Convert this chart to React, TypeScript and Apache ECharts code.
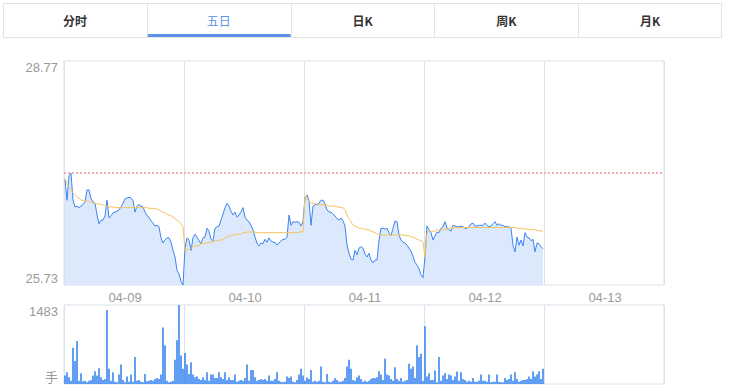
import React, { useEffect, useRef } from 'react';
import * as echarts from 'echarts';

const tabs = ['分时', '五日', '日K', '周K', '月K'];
const activeTab = 1;
const days = ['04-09', '04-10', '04-11', '04-12', '04-13'];
const POINTS_PER_DAY = 60;
const prevClose = 27.25;
const priceMin = 25.73;
const priceMax = 28.77;
const volMax = 1483;
const volUnit = '手';

const day1Price = [27.16,26.88,27.21,27.25,26.88,26.79,26.80,26.78,26.80,26.82,26.86,27.02,27.02,26.90,26.86,26.84,26.68,26.56,26.61,26.61,26.67,26.88,26.64,26.67,26.71,26.72,26.73,26.75,26.79,26.84,26.90,26.91,26.92,26.91,26.88,26.72,26.80,26.82,26.80,26.79,26.72,26.67,26.65,26.60,26.57,26.53,26.54,26.52,26.37,26.30,26.34,26.37,26.37,26.31,26.20,26.11,25.93,25.88,25.78,25.73];
const day2Price = [26.23,26.37,26.34,26.20,26.37,26.42,26.38,26.33,26.29,26.37,26.38,26.50,26.46,26.35,26.33,26.50,26.52,26.53,26.61,26.69,26.78,26.84,26.80,26.73,26.68,26.72,26.65,26.68,26.72,26.78,26.65,26.61,26.59,26.54,26.48,26.38,26.30,26.26,26.30,26.29,26.35,26.31,26.37,26.33,26.31,26.31,26.27,26.30,26.33,26.35,26.35,26.38,26.68,26.54,26.59,26.58,26.59,26.58,26.53,26.59];
const day3Price = [26.92,26.95,26.88,26.54,26.80,26.82,26.82,26.84,26.88,26.88,26.83,26.75,26.72,26.72,26.69,26.67,26.63,26.61,26.64,26.60,26.53,26.27,26.16,26.08,26.07,26.20,26.14,26.23,26.25,26.23,26.15,26.11,26.16,26.07,26.03,26.07,26.07,26.34,26.50,26.50,26.49,26.50,26.44,26.40,26.50,26.60,26.59,26.41,26.34,26.31,26.30,26.27,26.23,26.19,26.12,26.04,26.00,25.95,25.87,25.83];
const day4Price = [26.11,26.53,26.48,26.44,26.34,26.40,26.45,26.44,26.50,26.52,26.59,26.50,26.48,26.46,26.54,26.53,26.52,26.52,26.53,26.52,26.50,26.50,26.52,26.56,26.57,26.53,26.53,26.54,26.54,26.54,26.57,26.54,26.52,26.53,26.56,26.59,26.54,26.56,26.54,26.54,26.52,26.52,26.52,26.50,26.27,26.18,26.38,26.27,26.34,26.26,26.44,26.38,26.37,26.33,26.35,26.18,26.30,26.29,26.25,26.22];

const day1Avg = [27.18,27.11,27.06,27.02,26.98,26.95,26.92,26.91,26.88,26.88,26.87,26.87,26.86,26.86,26.84,26.84,26.83,26.83,26.82,26.82,26.80,26.80,26.79,26.79,26.79,26.78,26.78,26.78,26.78,26.78,26.78,26.78,26.78,26.78,26.78,26.78,26.78,26.78,26.78,26.78,26.78,26.78,26.77,26.77,26.77,26.77,26.76,26.75,26.73,26.72,26.71,26.69,26.68,26.67,26.65,26.63,26.61,26.59,26.56,26.53];
const day2Avg = [26.19,26.20,26.22,26.23,26.25,26.26,26.26,26.27,26.29,26.29,26.30,26.30,26.31,26.31,26.31,26.33,26.33,26.34,26.34,26.35,26.37,26.38,26.40,26.40,26.41,26.41,26.42,26.42,26.42,26.44,26.44,26.45,26.45,26.45,26.45,26.45,26.44,26.44,26.44,26.44,26.44,26.44,26.44,26.44,26.44,26.44,26.44,26.44,26.44,26.44,26.44,26.44,26.44,26.44,26.44,26.44,26.44,26.45,26.45,26.45];
const day3Avg = [26.94,26.90,26.87,26.84,26.84,26.83,26.83,26.82,26.82,26.82,26.82,26.82,26.80,26.80,26.80,26.80,26.79,26.79,26.78,26.78,26.75,26.68,26.63,26.59,26.54,26.53,26.52,26.50,26.50,26.49,26.49,26.48,26.48,26.46,26.45,26.44,26.42,26.42,26.41,26.41,26.41,26.41,26.41,26.41,26.41,26.41,26.41,26.41,26.41,26.41,26.40,26.40,26.40,26.38,26.38,26.37,26.35,26.34,26.33,26.31];
const day4Avg = [26.11,26.44,26.46,26.46,26.46,26.46,26.48,26.48,26.48,26.48,26.49,26.49,26.49,26.50,26.51,26.51,26.51,26.51,26.51,26.51,26.51,26.51,26.51,26.51,26.51,26.51,26.51,26.51,26.51,26.51,26.51,26.51,26.51,26.51,26.51,26.51,26.51,26.51,26.51,26.51,26.51,26.51,26.51,26.51,26.51,26.51,26.50,26.50,26.50,26.49,26.49,26.49,26.48,26.48,26.48,26.48,26.47,26.47,26.46,26.46];

const day1Vol = [158,221,126,63,681,430,808,63,202,50,63,32,63,76,158,240,158,297,126,76,95,1388,284,63,221,44,32,177,366,76,32,139,44,177,44,505,63,76,44,32,189,50,63,76,63,95,114,95,177,1060,726,63,32,44,63,454,820,1483,536,284];
const day2Vol = [580,366,189,410,177,126,139,95,76,126,76,221,63,177,177,114,114,221,126,95,221,76,126,76,76,177,44,63,76,63,114,366,63,265,265,126,63,76,95,76,95,63,158,63,63,95,221,63,44,32,44,139,114,139,44,32,76,177,284,158];
const day3Vol = [63,120,95,265,44,63,44,63,328,44,32,189,44,32,63,107,76,44,44,63,114,328,454,284,76,63,126,158,95,44,63,44,63,95,114,107,126,240,177,76,473,177,158,95,63,315,95,63,114,44,63,76,379,284,328,114,726,505,568,63];
const day4Vol = [1085,139,200,76,76,252,32,505,63,158,200,95,177,158,76,139,233,63,221,95,76,44,63,44,114,44,44,63,177,63,63,44,177,32,44,44,177,44,32,32,114,76,95,177,63,221,95,44,63,76,76,95,139,95,240,139,177,240,95,284];

const FONT = 'Arial, "Liberation Sans", "Noto Sans CJK SC", sans-serif';
const CJK = '"Noto Sans CJK SC", Arial, sans-serif';

export default function App() {
  const ref = useRef<HTMLDivElement>(null);
  useEffect(() => {
    if (!ref.current) return;
    const chart = echarts.init(ref.current, undefined, { renderer: 'svg' });
    const categories = days.flatMap((d) =>
      Array.from({ length: POINTS_PER_DAY }, (_, i) => `${d}#${i}`)
    );
    const price = [...day1Price, ...day2Price, ...day3Price, ...day4Price];
    const avg = [...day1Avg, ...day2Avg, ...day3Avg, ...day4Avg];
    const vol = [...day1Vol, ...day2Vol, ...day3Vol, ...day4Vol];

    const tabLeft = 3;
    const tabTop = 3;
    const tabTotal = 719;
    const tabH = 34;
    const tabW = tabTotal / tabs.length;
    const border = '#e3e3e3';
    const graphics: any[] = [
      {
        type: 'rect',
        shape: { x: tabLeft + 0.5, y: tabTop + 0.5, width: tabTotal - 1, height: tabH },
        style: { fill: '#fff', stroke: border, lineWidth: 1 },
        silent: true,
      },
    ];
    tabs.forEach((t, k) => {
      if (k > 0) {
        const lx = Math.round(tabLeft + tabW * k) + 0.5;
        graphics.push({
          type: 'line',
          shape: { x1: lx, y1: tabTop + 0.5, x2: lx, y2: tabTop + tabH + 0.5 },
          style: { stroke: border, lineWidth: 1 },
          silent: true,
        });
      }
      graphics.push({
        type: 'text',
        x: tabLeft + tabW * (k + 0.5),
        y: 20,
        style: {
          text: t,
          fill: k === activeTab ? '#5b93ec' : '#333',
          font: `${k === activeTab ? 'normal' : 'bold'} 12px ${CJK}`,
          textAlign: 'center',
          textVerticalAlign: 'middle',
        },
        silent: true,
      });
    });
    graphics.push({
      type: 'rect',
      shape: { x: tabLeft + tabW * activeTab + 1, y: tabTop + tabH - 3, width: tabW - 1, height: 3 },
      style: { fill: '#5d94e8' },
      silent: true,
    });

    const gridBorder = '#d9e2ec';
    const splitEvery = (idx: number) => idx % POINTS_PER_DAY === 0;
    const labelColor = '#9a9a9a';

    chart.setOption({
      animation: false,
      backgroundColor: '#fff',
      textStyle: { fontFamily: FONT },
      graphic: graphics,
      grid: [
        { left: 64, top: 61, width: 600, height: 224, show: true, borderColor: gridBorder, borderWidth: 1, backgroundColor: 'transparent', outerBoundsMode: 'none', containLabel: false },
        { left: 64, top: 305, width: 600, height: 79, show: true, borderColor: gridBorder, borderWidth: 1, backgroundColor: 'transparent', outerBoundsMode: 'none', containLabel: false },
      ],
      xAxis: [
        {
          type: 'category',
          gridIndex: 0,
          data: categories,
          boundaryGap: true,
          axisLine: { show: false },
          axisTick: { show: false },
          axisLabel: {
            interval: (idx: number) => idx % POINTS_PER_DAY === POINTS_PER_DAY / 2,
            formatter: (v: string) => v.split('#')[0],
            color: labelColor,
            fontSize: 13,
            margin: 6,
            fontFamily: FONT,
          },
          splitLine: { show: true, interval: splitEvery, lineStyle: { color: gridBorder, width: 1 } },
        },
        {
          type: 'category',
          gridIndex: 1,
          data: categories,
          boundaryGap: true,
          axisLine: { show: false },
          axisTick: { show: false },
          axisLabel: { show: false },
          splitLine: { show: true, interval: splitEvery, lineStyle: { color: gridBorder, width: 1 } },
        },
      ],
      yAxis: [
        {
          type: 'value',
          gridIndex: 0,
          min: priceMin,
          max: priceMax,
          axisLine: { show: false },
          axisTick: { show: false },
          splitLine: { show: false },
          axisLabel: {
            customValues: [priceMin, priceMax],
            formatter: (v: number) => v.toFixed(2),
            color: labelColor,
            fontSize: 13,
            margin: 6,
            fontFamily: FONT,
            verticalAlignMinLabel: 'bottom',
            verticalAlignMaxLabel: 'top',
          },
        },
        {
          type: 'value',
          gridIndex: 1,
          min: 0,
          max: volMax,
          axisLine: { show: false },
          axisTick: { show: false },
          splitLine: { show: false },
          axisLabel: {
            customValues: [0, volMax],
            formatter: (v: number) => (v === 0 ? volUnit : String(v)),
            color: labelColor,
            fontSize: 13,
            margin: 6,
            fontFamily: FONT,
            verticalAlignMinLabel: 'bottom',
            verticalAlignMaxLabel: 'top',
          },
        },
      ],
      series: [
        {
          name: '价格',
          type: 'line',
          xAxisIndex: 0,
          yAxisIndex: 0,
          data: price,
          symbol: 'none',
          lineStyle: { color: '#3b84f2', width: 1 },
          itemStyle: { color: '#3b84f2' },
          areaStyle: { color: '#dce8fb', opacity: 1, origin: 'start' },
          z: 2,
          markLine: {
            silent: true,
            symbol: 'none',
            label: { show: false },
            lineStyle: { color: '#f7b0b0', type: [2, 2], width: 2 },
            data: [{ yAxis: prevClose }],
          },
        },
        {
          name: '均价',
          type: 'line',
          xAxisIndex: 0,
          yAxisIndex: 0,
          data: avg,
          symbol: 'none',
          lineStyle: { color: '#f5c462', width: 1 },
          itemStyle: { color: '#f5c462' },
          z: 3,
        },
        {
          name: '成交量',
          type: 'bar',
          xAxisIndex: 1,
          yAxisIndex: 1,
          data: vol,
          barWidth: 1.5,
          itemStyle: { color: '#2f7ef2' },
        },
      ],
    });
    return () => chart.dispose();
  }, []);
  return (
    <div
      ref={ref}
      style={{ position: 'absolute', left: 0, top: 0, width: 729, height: 391 }}
    />
  );
}
